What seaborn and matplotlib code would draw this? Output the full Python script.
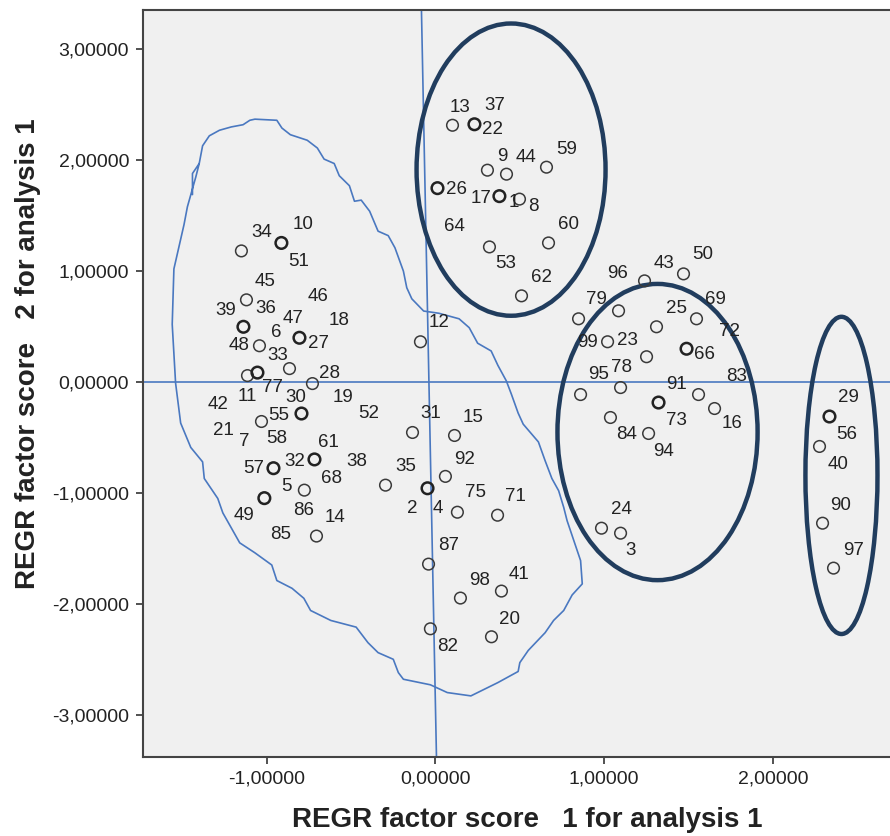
import matplotlib
matplotlib.use("Agg")
import matplotlib.pyplot as plt
from matplotlib.patches import Ellipse
from matplotlib.ticker import FuncFormatter
import pandas as pd
import seaborn as sns

# factor scores of the visible markers (x = factor 1, y = factor 2); bold = overlapping cases
score1 = [-1.150, -0.913, -1.120, -1.138, -0.806, -1.043, -0.865, -1.114, -1.055, -0.729,
          -0.794, -1.031, -0.717, -0.960, -0.296, -0.777, -1.014, -0.705, -0.089, -0.136,
          0.113, 0.059, -0.047, 0.130, 0.368, -0.041, 0.148, 0.391, -0.030, 0.332,
          0.101, 0.231, 0.308, 0.421, 0.658, 0.012, 0.379, 0.498, 0.320, 0.670, 0.510,
          1.239, 1.470, 1.085, 0.848, 1.547, 1.310, 1.020, 1.488, 1.251, 1.097,
          0.860, 1.559, 1.322, 1.654, 1.037, 1.263, 0.984, 1.097,
          2.335, 2.276, 2.294, 2.359]
score2 = [1.182, 1.254, 0.741, 0.498, 0.399, 0.327, 0.121, 0.058, 0.085, -0.014,
          -0.284, -0.356, -0.698, -0.777, -0.930, -0.975, -1.047, -1.389, 0.363, -0.455,
          -0.482, -0.851, -0.958, -1.174, -1.201, -1.642, -1.948, -1.885, -2.225, -2.297,
          2.315, 2.324, 1.910, 1.874, 1.937, 1.748, 1.676, 1.649, 1.218, 1.254, 0.777,
          0.912, 0.975, 0.642, 0.570, 0.570, 0.498, 0.363, 0.300, 0.228, -0.050,
          -0.113, -0.113, -0.185, -0.239, -0.320, -0.464, -1.318, -1.363,
          -0.311, -0.581, -1.273, -1.678]
bold = [0, 1, 0, 1, 1, 0, 0, 0, 1, 0,
        1, 0, 1, 1, 0, 0, 1, 0, 0, 0,
        0, 0, 1, 0, 0, 0, 0, 0, 0, 0,
        0, 1, 0, 0, 0, 1, 1, 0, 0, 0, 0,
        0, 0, 0, 0, 0, 0, 0, 1, 0, 0,
        0, 0, 1, 0, 0, 0, 0, 0,
        1, 0, 0, 0]

# case labels and where SPSS put them
case_ids = ["10", "34", "51", "45", "46", "39", "36", "47", "18", "6", "27", "48", "33",
            "28", "77", "11", "30", "19", "42", "52", "55", "21", "7", "58", "61", "32",
            "38", "57", "68", "5", "86", "14", "49", "85", "12", "31", "15", "35", "92",
            "2", "4", "75", "71", "87", "98", "41", "20", "82", "13", "37", "22", "9",
            "44", "59", "26", "17", "1", "8", "60", "64", "53", "62", "50", "43", "96",
            "79", "69", "25", "72", "99", "23", "66", "78", "95", "83", "91", "73", "16",
            "84", "94", "24", "3", "29", "56", "40", "90", "97"]
label_x = [-0.782, -1.031, -0.812, -1.008, -0.694, -1.245, -1.008, -0.842, -0.569, -0.942,
           -0.694, -1.162, -0.937, -0.628, -0.966, -1.114, -0.830, -0.545, -1.286, -0.397,
           -0.931, -1.257, -1.132, -0.942, -0.634, -0.836, -0.468, -1.079, -0.616, -0.883,
           -0.782, -0.593, -1.132, -0.919, 0.024, -0.030, 0.225, -0.178, 0.172, -0.136,
           0.012, 0.237, 0.474, 0.077, 0.261, 0.498, 0.439, 0.071, 0.148, 0.350,
           0.338, 0.397, 0.539, 0.777, 0.124, 0.273, 0.462, 0.581, 0.788, 0.113,
           0.415, 0.628, 1.583, 1.352, 1.079, 0.954, 1.660, 1.429, 1.743, 0.901,
           1.138, 1.595, 1.103, 0.966, 1.784, 1.429, 1.429, 1.755, 1.132, 1.352,
           1.103, 1.156, 2.448, 2.436, 2.383, 2.401, 2.478]
label_y = [1.416, 1.344, 1.083, 0.903, 0.768, 0.642, 0.660, 0.570, 0.552, 0.444,
           0.345, 0.327, 0.237, 0.076, -0.050, -0.131, -0.140, -0.140, -0.203, -0.284,
           -0.302, -0.437, -0.536, -0.509, -0.545, -0.716, -0.716, -0.779, -0.869, -0.941,
           -1.157, -1.219, -1.201, -1.372, 0.534, -0.284, -0.320, -0.761, -0.698, -1.138,
           -1.138, -0.995, -1.031, -1.471, -1.786, -1.732, -2.137, -2.388, 2.476, 2.494,
           2.279, 2.036, 2.027, 2.099, 1.739, 1.658, 1.622, 1.586, 1.416, 1.398,
           1.065, 0.939, 1.146, 1.065, 0.975, 0.741, 0.741, 0.660, 0.453, 0.354,
           0.372, 0.246, 0.129, 0.067, 0.049, -0.023, -0.347, -0.374, -0.473, -0.626,
           -1.147, -1.516, -0.140, -0.473, -0.743, -1.112, -1.516]

# hand-drawn freeform outline around the left group
outline_x = [-1.44, -1.44, -1.40, -1.38, -1.34, -1.28, -1.21, -1.14, -1.10, -1.07,
             -0.94, -0.91, -0.86, -0.76, -0.70, -0.66, -0.60, -0.57, -0.51, -0.48,
             -0.44, -0.39, -0.34, -0.28, -0.24, -0.19, -0.17, -0.14, -0.07, 0.02,
             0.14, 0.20, 0.25, 0.33, 0.37, 0.42, 0.45, 0.49, 0.52, 0.61,
             0.65, 0.69, 0.73, 0.76, 0.78, 0.84, 0.86, 0.87, 0.81, 0.76,
             0.70, 0.65, 0.55, 0.50, 0.49, 0.37, 0.21, 0.07, -0.03, -0.19,
             -0.22, -0.25, -0.34, -0.40, -0.47, -0.62, -0.74, -0.78, -0.85, -0.94,
             -0.97, -1.07, -1.16, -1.26, -1.29, -1.37, -1.38, -1.45, -1.51, -1.54,
             -1.56, -1.55, -1.49, -1.47, -1.42, -1.40]
outline_y = [1.69, 1.88, 1.97, 2.13, 2.22, 2.27, 2.30, 2.32, 2.36, 2.37,
             2.36, 2.29, 2.23, 2.18, 2.11, 2.01, 1.97, 1.86, 1.77, 1.63,
             1.64, 1.54, 1.36, 1.32, 1.21, 1.00, 0.85, 0.75, 0.64, 0.62,
             0.57, 0.49, 0.35, 0.28, 0.15, 0.01, -0.11, -0.28, -0.38, -0.54,
             -0.71, -0.87, -0.98, -1.13, -1.25, -1.52, -1.61, -1.82, -1.92, -2.06,
             -2.15, -2.26, -2.42, -2.53, -2.61, -2.71, -2.83, -2.80, -2.73, -2.68,
             -2.62, -2.50, -2.44, -2.35, -2.21, -2.15, -2.06, -1.95, -1.86, -1.79,
             -1.65, -1.54, -1.45, -1.18, -1.05, -0.87, -0.72, -0.59, -0.37, -0.01,
             0.52, 1.02, 1.42, 1.58, 1.85, 1.97]

# reference lines drawn in the chart editor
axis_line_x = [-0.083, 0.006]
axis_line_y = [3.354, -3.381]

# group ellipses: centre x, centre y, width, height (data units)
groups = [(0.448, 1.915, 1.120, 2.635),
          (1.316, -0.451, 1.186, 2.671),
          (2.406, -0.842, 0.427, 2.860)]

x_ticks = [-1, 0, 1, 2]
y_ticks = [-3, -2, -1, 0, 1, 2, 3]

df = pd.DataFrame({"score1": score1, "score2": score2, "bold": bold})

sns.set_style("white")
plt.rcParams["font.family"] = ["Liberation Sans", "DejaVu Sans"]

fig = plt.figure(figsize=(8.9, 8.36), dpi=100)
ax = fig.add_axes([0.1607, 0.0945, 0.8405, 0.8935])
ax.set_facecolor("#f0f0f0")

line_blue = "#4a78c0"
navy = "#213d5e"

ax.axhline(0, color=line_blue, lw=1.2, zorder=1)
ax.plot(axis_line_x, axis_line_y, color=line_blue, lw=1.2, zorder=1)
ax.plot(outline_x, outline_y, color=line_blue, lw=1.2, zorder=1)

for cx, cy, w, h in groups:
    ax.add_patch(Ellipse((cx, cy), w, h, fill=False, edgecolor=navy, lw=3.2, zorder=2))

sns.scatterplot(data=df[df.bold == 0], x="score1", y="score2", ax=ax, s=70,
                facecolor="none", edgecolor="#3a3a3a", linewidth=1.1, zorder=3)
sns.scatterplot(data=df[df.bold == 1], x="score1", y="score2", ax=ax, s=70,
                facecolor="none", edgecolor="#222222", linewidth=1.8, zorder=3)

for lab, lx, ly in zip(case_ids, label_x, label_y):
    ax.text(lx, ly, lab, ha="center", va="center", fontsize=13.5, color="#222222", zorder=4)

ax.set_xlim(-1.733, 2.70)
ax.set_ylim(-3.381, 3.354)
ax.set_xticks(x_ticks)
ax.set_yticks(y_ticks)
fmt = FuncFormatter(lambda v, p: f"{v:.5f}".replace(".", ","))
ax.xaxis.set_major_formatter(fmt)
ax.yaxis.set_major_formatter(fmt)
ax.tick_params(axis="both", direction="out", length=5, width=1.2, colors="#333333",
               labelsize=14, labelcolor="#222222", bottom=True, left=True, pad=5)

for side in ["left", "bottom", "top", "right"]:
    ax.spines[side].set_color("#444444")
    ax.spines[side].set_linewidth(1.5)

ax.set_xlabel("REGR factor score   1 for analysis 1", fontsize=20, fontweight="bold",
              color="#222222", labelpad=14)
ax.set_ylabel("REGR factor score   2 for analysis 1", fontsize=20, fontweight="bold",
              color="#222222", labelpad=8)
ax.xaxis.label.set_x(0.513)
ax.yaxis.label.set_y(0.54)

fig.savefig("out.png", dpi=100)
